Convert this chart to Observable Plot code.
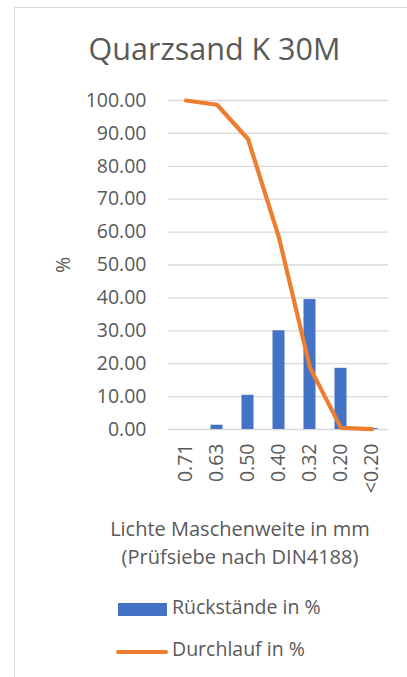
<!DOCTYPE html>
<html>
<head>
<meta charset="utf-8">
<script src="https://cdn.jsdelivr.net/npm/d3@7"></script>
<script src="https://cdn.jsdelivr.net/npm/@observablehq/plot@0.6"></script>
<style>
  html, body { margin: 0; padding: 0; background: #fff; }
  body { width: 407px; height: 677px; overflow: hidden; position: relative; font-family: "Open Sans", sans-serif; color: #595959; }
  #frame { position: absolute; left: 14px; top: 7px; width: 420px; height: 700px; border: 1px solid #d9d9d9; box-sizing: border-box; }
  #title { position: absolute; left: 0; width: 429px; top: 30px; text-align: center; font-size: 30.5px; line-height: 36px; }
  #chart { position: absolute; left: 0; top: 80px; }
  #xtitle { position: absolute; left: 60px; width: 360px; top: 515px; text-align: center; font-size: 20px; line-height: 28px; }
  .leg { position: absolute; left: 0; font-size: 19.5px; line-height: 20px; white-space: nowrap; }
  .sw { position: absolute; }
</style>
</head>
<body>
<div id="frame"></div>
<div id="title">Quarzsand K 30M</div>
<div id="chart"></div>
<div id="xtitle">Lichte Maschenweite in mm<br>(Prüfsiebe nach DIN4188)</div>
<div class="sw" style="left:118px;top:603px;width:49px;height:13px;background:#4472C4"></div>
<div class="leg" style="left:172px;top:597px">Rückstände in %</div>
<div class="sw" style="left:116px;top:650px;width:52px;height:4px;border-radius:2px;background:#ED7D31"></div>
<div class="leg" style="left:172px;top:639px">Durchlauf in %</div>
<script>
const categories = ["0.71", "0.63", "0.50", "0.40", "0.32", "0.20", "<0.20"];
const rueckstaende = [0.0, 1.3, 10.4, 30.0, 39.5, 18.6, 0.3];
const durchlauf = [100.0, 98.7, 88.3, 58.3, 18.8, 0.5, 0.1];
const yTicks = [0, 10, 20, 30, 40, 50, 60, 70, 80, 90, 100];

const rows = categories.map((c, i) => ({cat: c, r: rueckstaende[i], d: durchlauf[i]}));

const chart = Plot.plot({
  width: 407,
  height: 420,
  marginTop: 20,
  marginBottom: 71,
  marginLeft: 168,
  marginRight: 19,
  style: {fontFamily: "Open Sans, sans-serif", fontSize: "19.5px", color: "#595959", background: "transparent", overflow: "visible"},
  x: {domain: categories, padding: 0, label: null, tickSize: 0, tickPadding: 14, tickRotate: -90},
  y: {domain: [0, 100], ticks: yTicks, tickFormat: d3.format(".2f"), label: "%", labelAnchor: "center", labelOffset: 112, labelArrow: false, tickSize: 0, tickPadding: 22},
  marks: [
    Plot.gridY(yTicks, {stroke: "#d9d9d9", strokeOpacity: 1, strokeWidth: 1.3}),
    Plot.barY(rows, {x: "cat", y: "r", fill: "#4472C4", insetLeft: 9.5, insetRight: 9.5}),
    Plot.lineY(rows, {x: "cat", y: "d", stroke: "#ED7D31", strokeWidth: 4.2, strokeLinejoin: "round", strokeLinecap: "round"})
  ]
});
document.getElementById("chart").appendChild(chart);
</script>
</body>
</html>
